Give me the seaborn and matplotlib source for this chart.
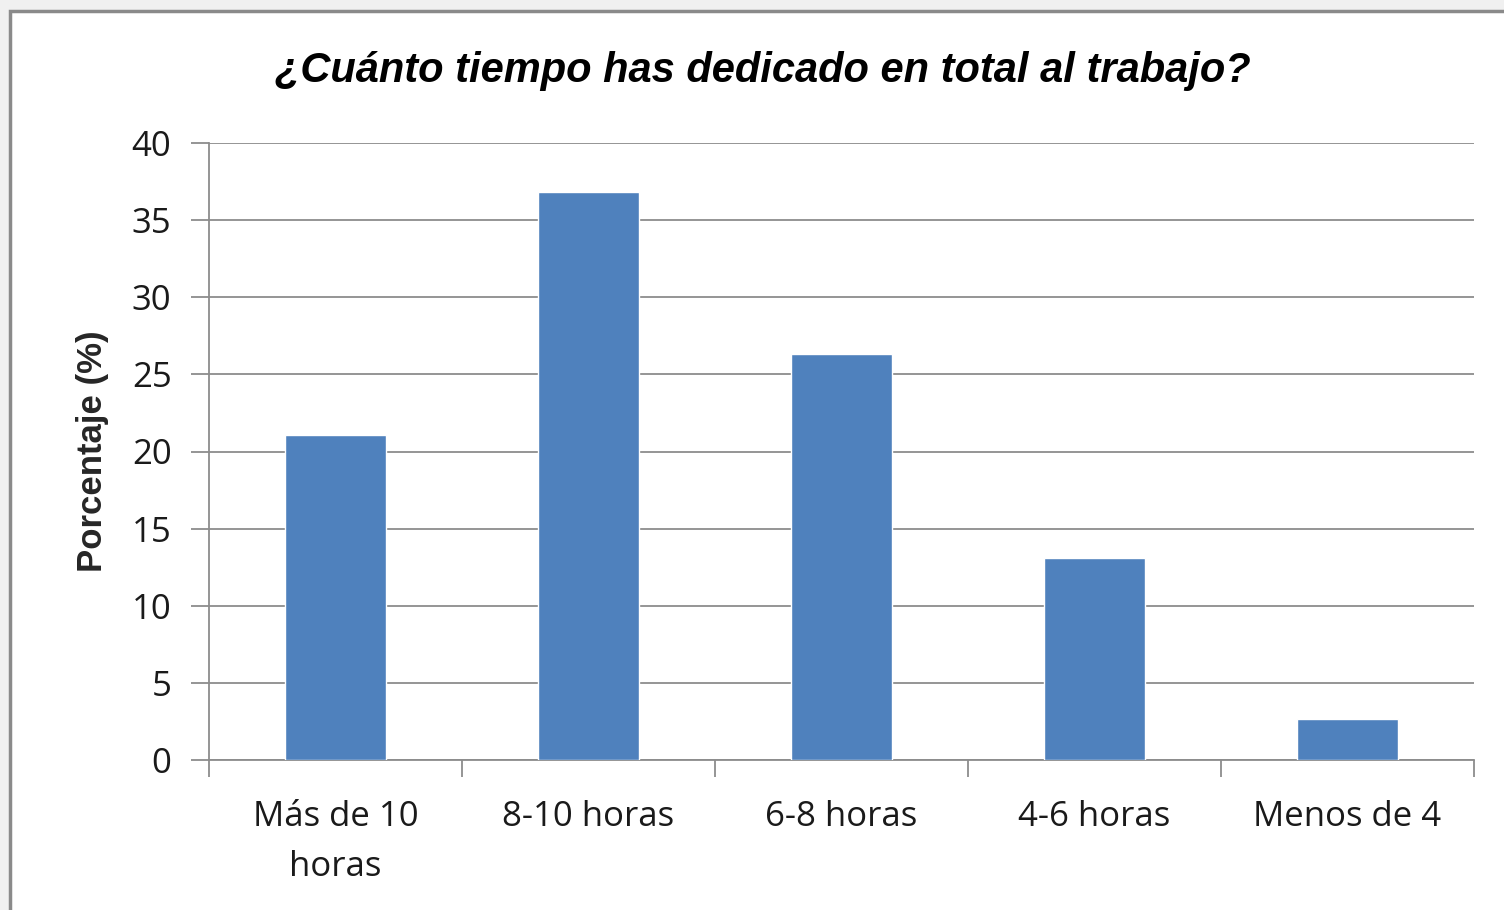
import numpy as np
import pandas as pd
import seaborn as sns
import matplotlib.pyplot as plt
from matplotlib.patches import Rectangle

# data
categorias = ['Más de 10\nhoras', '8-10 horas', '6-8 horas', '4-6 horas', 'Menos de 4']
porcentaje = [21.1, 36.8, 26.3, 13.1, 2.65]
y_ticks = [0, 5, 10, 15, 20, 25, 30, 35, 40]

df = pd.DataFrame({'categoria': categorias, 'porcentaje': porcentaje})

sns.set_theme(style='white')
plt.rcParams['font.family'] = ['Open Sans', 'DejaVu Sans']

fig = plt.figure(figsize=(15.04, 9.1), dpi=100)
fig.patch.set_facecolor('#f0f0f0')

# white chart area with gray frame
frame = Rectangle((10 / 1504, -0.1), 1.2, 0.1 + 1 - 11 / 910, transform=fig.transFigure,
                  facecolor='white', edgecolor='#8a8a8a', linewidth=2.5, zorder=-10)
fig.patches.append(frame)

ax = fig.add_axes([209 / 1504, 150 / 910, 1265 / 1504, 617 / 910])
ax.set_zorder(5)
ax.set_facecolor('none')

sns.barplot(data=df, x='categoria', y='porcentaje', color='#4f81bd', saturation=1,
            width=0.4, ax=ax, zorder=3)

ax.set_ylim(0, 40)
ax.set_xlim(-0.5, len(categorias) - 0.5)
ax.set_yticks(y_ticks)
ax.yaxis.grid(True, color='#8c8c8c', linewidth=1.3)
ax.set_axisbelow(True)

for s in ['top', 'right']:
    ax.spines[s].set_visible(False)
for s in ['left', 'bottom']:
    ax.spines[s].set_color('#8c8c8c')
    ax.spines[s].set_linewidth(1.3)

ax.tick_params(axis='y', which='major', length=13, width=1.3, color='#8c8c8c',
               labelsize=25, pad=14, labelcolor='#1a1a1a', left=True)
ax.tick_params(axis='x', which='major', length=0, labelsize=25, pad=29,
               labelcolor='#1a1a1a')
ax.set_xticks(np.arange(-0.5, len(categorias)), minor=True)
ax.tick_params(axis='x', which='minor', length=12, width=1.3, color='#8c8c8c',
               bottom=True)
for lbl in ax.get_xticklabels():
    lbl.set_linespacing(1.6)

ax.set_xlabel('')
ax.set_ylabel('Porcentaje (%)', fontsize=25, fontweight='bold',
              family=['Liberation Sans', 'DejaVu Sans'])
ax.yaxis.set_label_coords((109 - 209) / 1265, 0.5)

fig.text(0.507, 0.922, '¿Cuánto tiempo has dedicado en total al trabajo?',
         ha='center', va='center', fontsize=30, fontweight='bold', fontstyle='italic',
         family=['Liberation Sans', 'DejaVu Sans'], color='black')

fig.savefig('out.png', dpi=100, facecolor=fig.get_facecolor())
